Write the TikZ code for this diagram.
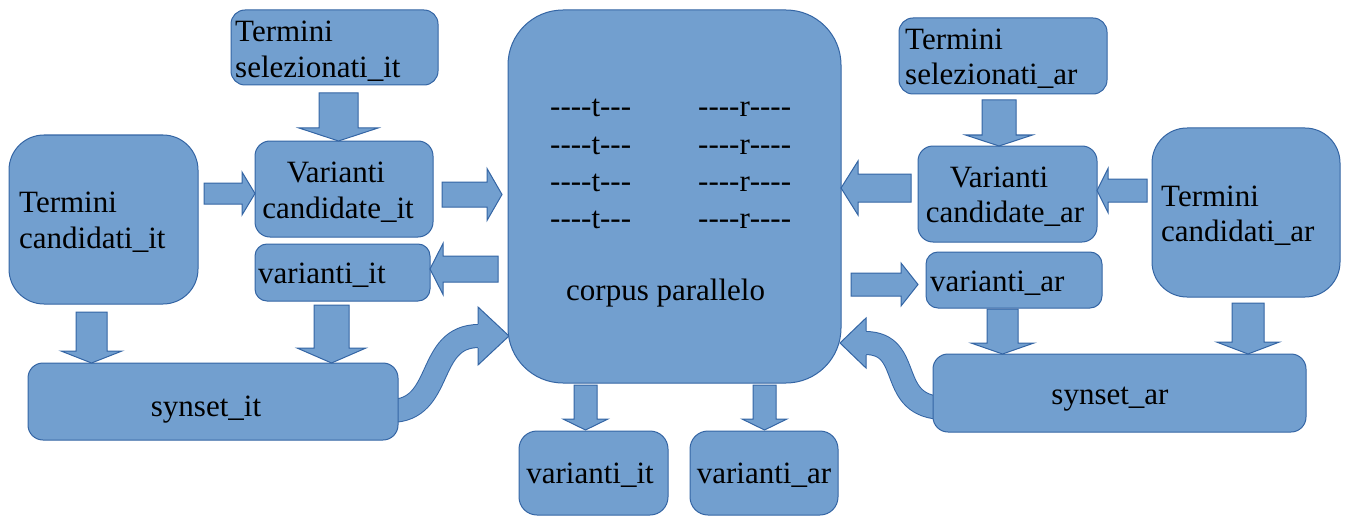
\documentclass[tikz,border=0pt]{standalone}
\usepackage{fontspec}
\setmainfont{Liberation Serif}
\newfontfamily\tnr{Liberation Serif}
\usetikzlibrary{fit}
\definecolor{fillc}{HTML}{729FCF}
\definecolor{linec}{HTML}{3465A4}
\tikzset{
  boxshape/.style={draw=linec, fill=fillc, line width=1pt, inner sep=0pt},
  blk/.style={draw=linec, fill=fillc, line width=1pt, line join=miter},
  headfill/.style={fill=fillc, draw=none},
  headline/.style={draw=linec, line width=1pt, line join=miter},
  band/.style={draw=linec, line width=1pt, double=fillc, double distance=22pt},
  txt/.style={inner sep=0pt, font=\tnr\fontsize{31}{37}\selectfont, text=black},
}
\newcommand\hy{\mbox{-}}
% vertical block arrow: xc, shaft half, head half, ytop, ybase, ytip
\newcommand\ArrDown[6]{%
  \draw[blk] ({#1-#2},#4) -- ({#1+#2},#4) -- ({#1+#2},#5) -- ({#1+#3},#5) -- (#1,#6) -- ({#1-#3},#5) -- ({#1-#2},#5) -- cycle;}
% horizontal block arrow: yc, shaft half, head half, xtail, xbase, xtip
\newcommand\ArrHor[6]{%
  \draw[blk] (#4,{#1-#2}) -- (#5,{#1-#2}) -- (#5,{#1-#3}) -- (#6,#1) -- (#5,{#1+#3}) -- (#5,{#1+#2}) -- (#4,{#1+#2}) -- cycle;}
\begin{document}
\begin{tikzpicture}[x=1pt,y=-1pt]
\useasboundingbox (0,0) rectangle (1351,516);

% curved arrows (drawn first, boxes cover their tails)
\draw[band] (390,411) .. controls (445,411) and (425,336) .. (479,336);
\fill[headfill] (478,307) -- (509,336) -- (478,365) -- cycle;
\draw[headline] (478,324) -- (478,307) -- (509,336) -- (478,365) -- (478,348);

\draw[band] (945,408) .. controls (885,408) and (915,343) .. (865,343);
\fill[headfill] (866,318) -- (840,343) -- (866,368) -- cycle;
\draw[headline] (866,331) -- (866,318) -- (840,343) -- (866,368) -- (866,355);

% boxes
\node[boxshape, rounded corners=14pt, fit={(231,10) (438,85)}] (selit) {};
\node[boxshape, rounded corners=15pt, fit={(255,141) (433,237)}] (vcit) {};
\node[boxshape, rounded corners=12pt, fit={(255,244) (430,301)}] (vit) {};
\node[boxshape, rounded corners=35pt, fit={(9,135) (198,304)}] (tcit) {};
\node[boxshape, rounded corners=15pt, fit={(28,363) (398,440)}] (synit) {};
\node[boxshape, rounded corners=55pt, fit={(508,10) (841,383)}] (corpus) {};
\node[boxshape, rounded corners=18pt, fit={(519,431) (668,515)}] (bvit) {};
\node[boxshape, rounded corners=18pt, fit={(690,431) (838,515)}] (bvar) {};
\node[boxshape, rounded corners=14pt, fit={(899,18) (1107,94)}] (selar) {};
\node[boxshape, rounded corners=15pt, fit={(918,146) (1097,242)}] (vcar) {};
\node[boxshape, rounded corners=12pt, fit={(926,252) (1102,308)}] (var) {};
\node[boxshape, rounded corners=35pt, fit={(1152,128) (1340,297)}] (tcar) {};
\node[boxshape, rounded corners=15pt, fit={(933,354) (1306,432)}] (synar) {};

% straight block arrows
\ArrDown{338.5}{19.5}{39.5}{93}{128}{141}
\ArrHor{193.5}{10.5}{21.5}{204}{242}{255}
\ArrHor{194.5}{12.5}{26}{442}{487}{502}
\ArrHor{269}{13}{25.5}{498}{443}{430}
\ArrDown{91.5}{15.5}{30.5}{312}{351}{363}
\ArrDown{331.5}{17.5}{34.5}{305}{348}{363}
\ArrDown{585.5}{11.5}{22.5}{385}{419}{430}
\ArrDown{764.5}{11.5}{22.5}{385}{419}{430}
\ArrDown{999}{17}{33.5}{100}{135}{146}
\ArrHor{190.5}{11.5}{22}{1147}{1108}{1097}
\ArrHor{188}{14}{27}{911}{858}{841}
\ArrHor{284.5}{11.5}{21.5}{851}{901}{918}
\ArrDown{1002.5}{15.5}{31.5}{309}{343}{354}
\ArrDown{1248}{16}{31.5}{303}{342}{354}

% texts
\node[txt, anchor=base west] (selit1) at (235,42) {Termini};
\node[txt, anchor=base west] (selit2) at (235,78) {selezionati\_it};
\node[txt, anchor=base] (vcit1) at (336,182) {Varianti};
\node[txt, anchor=base] (vcit2) at (338,218) {candidate\_it};
\node[txt, anchor=base west] (vit1) at (258,283) {varianti\_it};
\node[txt, anchor=base west] (tcit1) at (19,212) {Termini};
\node[txt, anchor=base west] (tcit2) at (19,248) {candidati\_it};
\node[txt, anchor=base] (synit1) at (206,416) {synset\_it};
\foreach \yy [count=\i] in {117,154,191,228}{
  \node[txt, anchor=base west] (ct\i) at (550,\yy) {\hy\hy\hy\hy t\hy\hy\hy};
  \node[txt, anchor=base west] (cr\i) at (698,\yy) {\hy\hy\hy\hy r\hy\hy\hy\hy};
}
\node[txt, anchor=base west] (corp1) at (566,300) {corpus parallelo};
\node[txt, anchor=base] (bvit1) at (590,483) {varianti\_it};
\node[txt, anchor=base] (bvar1) at (764,483) {varianti\_ar};
\node[txt, anchor=base west] (selar1) at (905,50) {Termini};
\node[txt, anchor=base west] (selar2) at (905,85) {selezionati\_ar};
\node[txt, anchor=base] (vcar1) at (999,187) {Varianti};
\node[txt, anchor=base] (vcar2) at (1005,222) {candidate\_ar};
\node[txt, anchor=base west] (var1) at (930,291) {varianti\_ar};
\node[txt, anchor=base west] (tcar1) at (1161,206) {Termini};
\node[txt, anchor=base west] (tcar2) at (1161,241) {candidati\_ar};
\node[txt, anchor=base] (synar1) at (1110,404) {synset\_ar};
\end{tikzpicture}
\end{document}
